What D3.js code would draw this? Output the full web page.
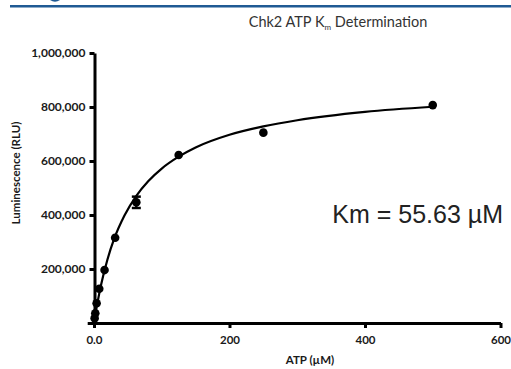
<!DOCTYPE html>
<html>
<head>
<meta charset="utf-8">
<script src="https://cdn.jsdelivr.net/npm/d3@7"></script>
<style>
  body { margin: 0; background: #fff; }
  svg { display: block; }
  .axis path, .axis line { stroke: #000; stroke-width: 3px; }
  .axis text { font-family: Lato, sans-serif; font-weight: bold; fill: #1a1a1a; }
</style>
</head>
<body>
<svg id="chart" width="511" height="369"></svg>
<script>
// measured points (ATP uM, luminescence RLU)
const atp = [0.98, 1.95, 3.9, 7.8, 15.6, 31.25, 62.5, 125, 250, 500];
const rlu = [18000, 36000, 73000, 127000, 196000, 316000, 447000, 622000, 705000, 807000];
const rluErr = [0, 0, 0, 0, 0, 0, 21000, 0, 0, 0];

// fitted curve
const fitAtp = [0, 2, 5, 10, 20, 30, 45, 62.5, 80, 100, 125, 150, 200, 250, 300, 400, 500];
const fitRlu = [0, 31000, 73000, 136000, 236000, 313000, 398000, 471000, 525000, 572000, 616000, 650000, 697000, 728000, 751000, 782000, 801000];

const xTicks = [0, 200, 400, 600];
const xTickLabels = ["0.0", "200", "400", "600"];
const yTicks = [200000, 400000, 600000, 800000, 1000000];

const svg = d3.select("#chart");

// header rule + bit of logo
svg.append("rect").attr("x", 10).attr("y", 5).attr("width", 501).attr("height", 2.5).attr("fill", "#1f5a94");
svg.append("path").attr("d", "M50,0 Q55,3.5 60,0 Z").attr("fill", "#1f5a94");

let x = d3.scaleLinear().domain([-10, 600]).range([87.2, 500.5]);
let y = d3.scaleLinear().domain([0, 1000000]).range([323, 53]);

svg.append("g")
  .attr("class", "axis")
  .attr("transform", "translate(0,323)")
  .call(d3.axisBottom(x).tickValues(xTicks).tickSize(5).tickSizeOuter(0)
    .tickFormat((d, i) => xTickLabels[i]))
  .selectAll("text").attr("dy", "1.15em").style("font-size", "11.5px");

svg.append("g")
  .attr("class", "axis")
  .attr("transform", "translate(94.5,0)")
  .call(d3.axisLeft(y).tickValues(yTicks).tickSize(5).tickSizeOuter(0)
    .tickFormat(d3.format(",")))
  .selectAll("text").attr("x", -9).style("font-size", "12px");

// axis titles
svg.append("text")
  .attr("x", 310).attr("y", 364)
  .attr("text-anchor", "middle")
  .style("font", "bold 11.5px Lato, sans-serif").attr("fill", "#1a1a1a")
  .text("ATP (\u00b5M)");

svg.append("text")
  .attr("transform", "translate(20,173) rotate(-90)")
  .attr("text-anchor", "middle")
  .style("font", "bold 11.5px Lato, sans-serif").attr("fill", "#1a1a1a")
  .text("Luminescence (RLU)");

// title
let title = svg.append("text")
  .attr("x", 338).attr("y", 27)
  .attr("text-anchor", "middle")
  .style("font", "14.5px Lato, sans-serif").attr("fill", "#333");
title.append("tspan").text("Chk2 ATP K");
title.append("tspan").attr("dy", 3).style("font-size", "8px").text("m");
title.append("tspan").attr("dy", -3).text(" Determination");

// fit line
let line = d3.line()
  .x((d, i) => x(d))
  .y((d, i) => y(fitRlu[i]))
  .curve(d3.curveMonotoneX);

svg.append("path")
  .datum(fitAtp)
  .attr("d", line)
  .attr("fill", "none")
  .attr("stroke", "#000")
  .attr("stroke-width", 2.2);

// error bars
let errIdx = d3.range(atp.length).filter(i => rluErr[i] > 0);
let eb = svg.selectAll(".err").data(errIdx).enter().append("g").attr("class", "err")
  .attr("stroke", "#000").attr("stroke-width", 2.5);
eb.append("line")
  .attr("x1", i => x(atp[i])).attr("x2", i => x(atp[i]))
  .attr("y1", i => y(rlu[i] - rluErr[i])).attr("y2", i => y(rlu[i] + rluErr[i]));
eb.append("line")
  .attr("x1", i => x(atp[i]) - 4.5).attr("x2", i => x(atp[i]) + 4.5)
  .attr("y1", i => y(rlu[i] - rluErr[i])).attr("y2", i => y(rlu[i] - rluErr[i]));
eb.append("line")
  .attr("x1", i => x(atp[i]) - 4.5).attr("x2", i => x(atp[i]) + 4.5)
  .attr("y1", i => y(rlu[i] + rluErr[i])).attr("y2", i => y(rlu[i] + rluErr[i]));

// points
svg.selectAll(".dot")
  .data(atp)
  .enter().append("circle")
  .attr("class", "dot")
  .attr("cx", d => x(d))
  .attr("cy", (d, i) => y(rlu[i]))
  .attr("r", 4.3)
  .attr("fill", "#000");

// Km label
svg.append("text")
  .attr("x", 503).attr("y", 223)
  .attr("text-anchor", "end")
  .style("font", "25px 'Liberation Sans', Arial, sans-serif").attr("fill", "#222")
  .text("Km = 55.63 \u00b5M");
</script>
</body>
</html>
